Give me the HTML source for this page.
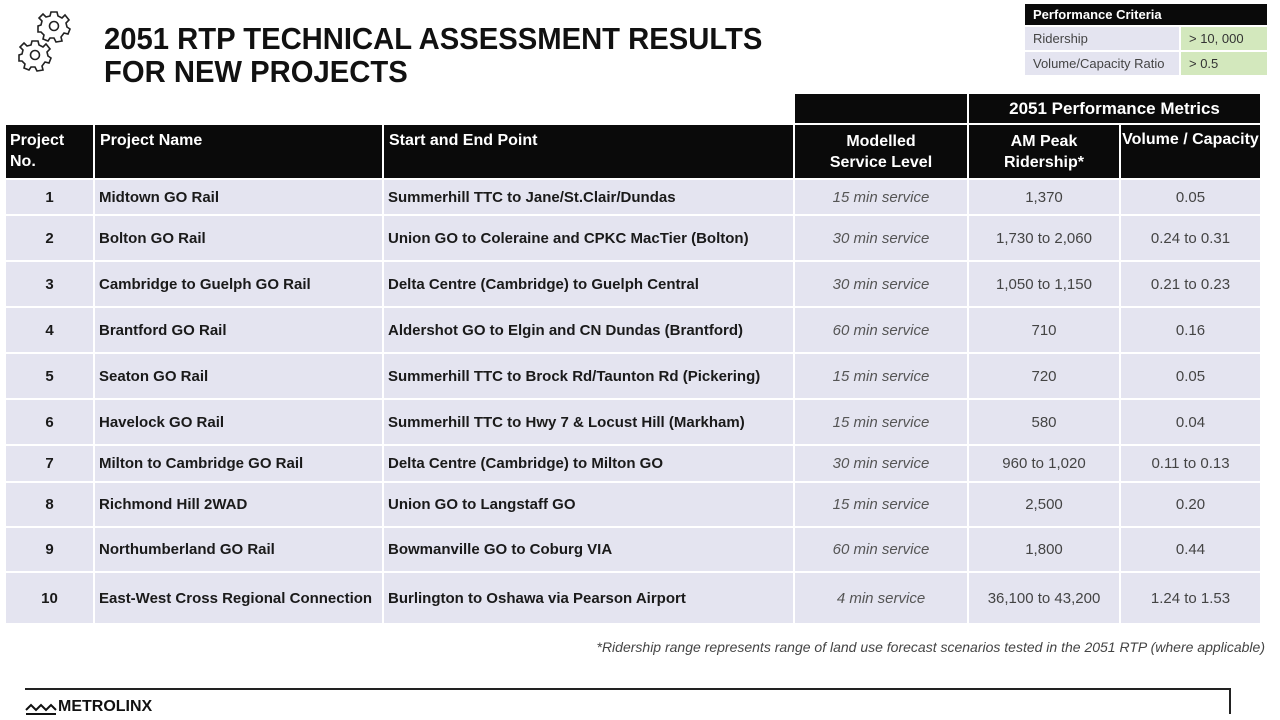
<!DOCTYPE html>
<html><head><meta charset="utf-8"><style>
body{margin:0;width:1280px;height:720px;background:#fff;font-family:"Liberation Sans",sans-serif;position:relative;overflow:hidden;color:#222}
.t{position:absolute;left:104px;top:22px;font-size:31px;font-weight:bold;line-height:33px;color:#111;transform:scaleX(0.943);transform-origin:left top;white-space:nowrap}
table.m{position:absolute;left:4px;top:92px;border-collapse:separate;border-spacing:2px;table-layout:fixed}
table.m td{padding:0;overflow:hidden;white-space:nowrap}
.h td.b{background:#0a0a0a;color:#fff;font-weight:bold;font-size:16px}
.r td{background:#e4e4f0;font-size:15px}
.c{text-align:center}
.bd{font-weight:bold;color:#1a1a1a;padding-left:4px!important}
.it{font-style:italic;color:#555;text-align:center}
.n{color:#444;text-align:center}
.cr{position:absolute;left:1023px;top:2px;border-collapse:separate;border-spacing:2px;font-size:13px}
.cr td{padding:0 8px;height:23px}
</style></head><body>
<svg style="position:absolute;left:14px;top:6px" width="62" height="70" viewBox="0 0 62 70" fill="none" stroke="#222" stroke-width="1.6">
<g transform="translate(40,20)"><path d="M-3,-14 L3,-14 L4,-10 L8,-8 L11,-11 L15,-6 L12,-3 L13,1 L16,3 L14,8 L10,7 L7,11 L8,15 L2,16 L0,12 L-4,12 L-6,15 L-11,13 L-10,9 L-13,6 L-16,6 L-16,0 L-13,-1 L-12,-5 L-15,-8 L-11,-12 L-8,-9 L-4,-10 Z"/><circle r="4.5"/></g>
<g transform="translate(21,49)"><path d="M-3,-14 L3,-14 L4,-10 L8,-8 L11,-11 L15,-6 L12,-3 L13,1 L16,3 L14,8 L10,7 L7,11 L8,15 L2,16 L0,12 L-4,12 L-6,15 L-11,13 L-10,9 L-13,6 L-16,6 L-16,0 L-13,-1 L-12,-5 L-15,-8 L-11,-12 L-8,-9 L-4,-10 Z"/><circle r="4.5"/></g>
</svg>
<div class="t">2051 RTP TECHNICAL ASSESSMENT RESULTS<br>FOR NEW PROJECTS</div>
<table class="cr">
<tr><td colspan="2" style="background:#0a0a0a;color:#fff;font-weight:bold;height:21px">Performance Criteria</td></tr>
<tr><td style="background:#e4e4f0;width:138px;color:#444">Ridership</td><td style="background:#d3e8bd;width:70px;color:#333">&gt; 10, 000</td></tr>
<tr><td style="background:#e4e4f0;color:#444">Volume/Capacity Ratio</td><td style="background:#d3e8bd;color:#333">&gt; 0.5</td></tr>
</table>
<table class="m">
<colgroup><col style="width:87px"><col style="width:287px"><col style="width:409px"><col style="width:172px"><col style="width:150px"><col style="width:139px"></colgroup>
<tr class="h" style="height:29px"><td></td><td></td><td></td><td class="b"></td><td class="b c" colspan="2" style="font-size:17px">2051 Performance Metrics</td></tr>
<tr class="h" style="height:53px"><td class="b" style="vertical-align:top;padding:5px 4px 0;line-height:21px">Project<br>No.</td><td class="b" style="vertical-align:top;padding:5px 5px 0;line-height:21px">Project Name</td><td class="b" style="vertical-align:top;padding:5px 5px 0;line-height:21px">Start and End Point</td><td class="b c" style="line-height:21px">Modelled<br>Service Level</td><td class="b c" style="line-height:21px">AM Peak<br>Ridership*</td><td class="b c" style="vertical-align:top;padding-top:4px;line-height:21px">Volume / Capacity</td></tr>
<tr class="r" style="height:34px"><td class="c bd" style="padding-left:0!important">1</td><td class="bd">Midtown GO Rail</td><td class="bd">Summerhill TTC to Jane/St.Clair/Dundas</td><td class="it">15 min service</td><td class="n">1,370</td><td class="n">0.05</td></tr>
<tr class="r" style="height:44px"><td class="c bd" style="padding-left:0!important">2</td><td class="bd">Bolton GO Rail</td><td class="bd">Union GO to Coleraine and CPKC MacTier (Bolton)</td><td class="it">30 min service</td><td class="n">1,730 to 2,060</td><td class="n">0.24 to 0.31</td></tr>
<tr class="r" style="height:44px"><td class="c bd" style="padding-left:0!important">3</td><td class="bd">Cambridge to Guelph GO Rail</td><td class="bd">Delta Centre (Cambridge) to Guelph Central</td><td class="it">30 min service</td><td class="n">1,050 to 1,150</td><td class="n">0.21 to 0.23</td></tr>
<tr class="r" style="height:44px"><td class="c bd" style="padding-left:0!important">4</td><td class="bd">Brantford GO Rail</td><td class="bd">Aldershot GO to Elgin and CN Dundas (Brantford)</td><td class="it">60 min service</td><td class="n">710</td><td class="n">0.16</td></tr>
<tr class="r" style="height:44px"><td class="c bd" style="padding-left:0!important">5</td><td class="bd">Seaton GO Rail</td><td class="bd">Summerhill TTC to Brock Rd/Taunton Rd (Pickering)</td><td class="it">15 min service</td><td class="n">720</td><td class="n">0.05</td></tr>
<tr class="r" style="height:44px"><td class="c bd" style="padding-left:0!important">6</td><td class="bd">Havelock GO Rail</td><td class="bd">Summerhill TTC to Hwy 7 &amp; Locust Hill (Markham)</td><td class="it">15 min service</td><td class="n">580</td><td class="n">0.04</td></tr>
<tr class="r" style="height:35px"><td class="c bd" style="padding-left:0!important">7</td><td class="bd">Milton to Cambridge GO Rail</td><td class="bd">Delta Centre (Cambridge) to Milton GO</td><td class="it">30 min service</td><td class="n">960 to 1,020</td><td class="n">0.11 to 0.13</td></tr>
<tr class="r" style="height:43px"><td class="c bd" style="padding-left:0!important">8</td><td class="bd">Richmond Hill 2WAD</td><td class="bd">Union GO to Langstaff GO</td><td class="it">15 min service</td><td class="n">2,500</td><td class="n">0.20</td></tr>
<tr class="r" style="height:43px"><td class="c bd" style="padding-left:0!important">9</td><td class="bd">Northumberland GO Rail</td><td class="bd">Bowmanville GO to Coburg VIA</td><td class="it">60 min service</td><td class="n">1,800</td><td class="n">0.44</td></tr>
<tr class="r" style="height:50px"><td class="c bd" style="padding-left:0!important">10</td><td class="bd">East-West Cross Regional Connection</td><td class="bd">Burlington to Oshawa via Pearson Airport</td><td class="it">4 min service</td><td class="n">36,100 to 43,200</td><td class="n">1.24 to 1.53</td></tr>
</table>
<div style="position:absolute;right:15px;top:639px;font-size:14px;font-style:italic;color:#444">*Ridership range represents range of land use forecast scenarios tested in the 2051 RTP (where applicable)</div>
<div style="position:absolute;left:25px;top:688px;width:1206px;height:2px;background:#222"></div>
<div style="position:absolute;left:1229px;top:689px;width:2px;height:25px;background:#222"></div>
<svg style="position:absolute;left:25px;top:701px" width="32" height="14" viewBox="0 0 32 14" fill="none" stroke="#111" stroke-width="2"><path d="M1,9 L6,4 L11,9 L16,4 L21,9 L26,4 L31,9"/><path d="M1,13 L31,13"/></svg>
<div style="position:absolute;left:58px;top:698px;font-size:16px;font-weight:bold;color:#111">METROLINX</div>
</body></html>
